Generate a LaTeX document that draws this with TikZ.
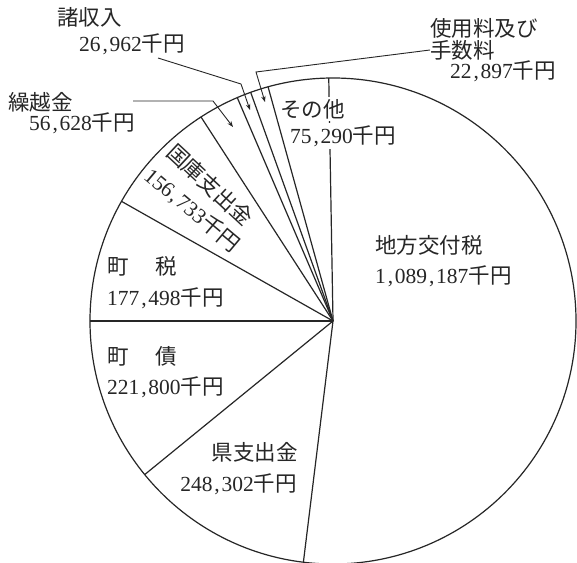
\documentclass[tikz,border=0pt]{standalone}
\usepackage{fontspec}
\setmainfont{Liberation Serif}
\newfontfamily\jp{Noto Sans CJK JP}
\usetikzlibrary{arrows.meta}
\newcommand\yen{{\jp 千円}}
\newcommand\cma{\makebox[0.42em]{,}}
\begin{document}
\begin{tikzpicture}[x=1pt,y=-1pt,
  pie/.style={line width=1.2pt,black!85},
  leader/.style={line width=0.9pt,black!85,-{Stealth[length=6pt,width=4.5pt]}},
  lab/.style={inner sep=0pt,font=\fontsize{21.5}{24}\selectfont,text=black!85},
  over/.style={lab,fill=white,inner sep=2pt}]
\useasboundingbox (0,0) rectangle (577,562);
\fill[white] (0,0) rectangle (577,562);
\coordinate (c) at (333,321);
% pie
\draw[pie] (c) circle[radius=243];
\foreach \a in {91,105.5,109.8,113.2,122.9,150.5,180,219.2,263}
  \draw[pie] (c) -- ([shift={(c)}]-\a:243);
% leader coordinates
\coordinate (b1) at (256,72);  \coordinate (t1) at (265,102);
\coordinate (s2) at (158,58);  \coordinate (b2) at (241,84);  \coordinate (t2) at (250,110);
\coordinate (s3) at (133,101); \coordinate (b3) at (213,101); \coordinate (t3) at (233,127);
% labels
\node[lab,anchor=west] (shu) at (57,17) {\jp 諸収入};
\node[lab,anchor=west] (shuv) at (79,44) {26\cma 962\yen};
\node[lab,anchor=west] (kuri) at (8,102) {\jp 繰越金};
\node[lab,anchor=west] (kuriv) at (29,123) {56\cma 628\yen};
\node[lab,anchor=west] (shiyo) at (430,28) {\jp 使用料及び};
\node[lab,anchor=west] (tesu) at (430,50) {\jp 手数料};
\node[lab,anchor=west] (tesuv) at (450,71) {22\cma 897\yen};
\draw[leader] (tesu.west) -- (b1) -- (t1);
\draw[leader] (s2) -- (b2) -- (t2);
\draw[leader] (s3) -- (b3) -- (t3);
\node[over,anchor=west] (sono) at (278,109) {\jp その他};
\node[over,anchor=west] (sonov) at (288,136) {75\cma 290\yen};
\node[lab,rotate=-43] (koku) at (210,185) {\jp 国庫支出金};
\node[lab,rotate=-40] (kokuv) at (192,210) {156\cma 733\yen};
\node[lab,anchor=west] (zei) at (107,266) {\jp 町\hspace{27pt}税};
\node[lab,anchor=west] (zeiv) at (107,298) {177\cma 498\yen};
\node[lab,anchor=west] (sai) at (107,356) {\jp 町\hspace{27pt}債};
\node[lab,anchor=west] (saiv) at (107,387) {221\cma 800\yen};
\node[lab,anchor=east] (ken) at (298,452) {\jp 県支出金};
\node[lab,anchor=east] (kenv) at (297,484) {248\cma 302\yen};
\node[lab,anchor=west] (chiho) at (375,245) {\jp 地方交付税};
\node[lab,anchor=west] (chihov) at (375,276) {1\cma 089\cma 187\yen};
\end{tikzpicture}
\end{document}
